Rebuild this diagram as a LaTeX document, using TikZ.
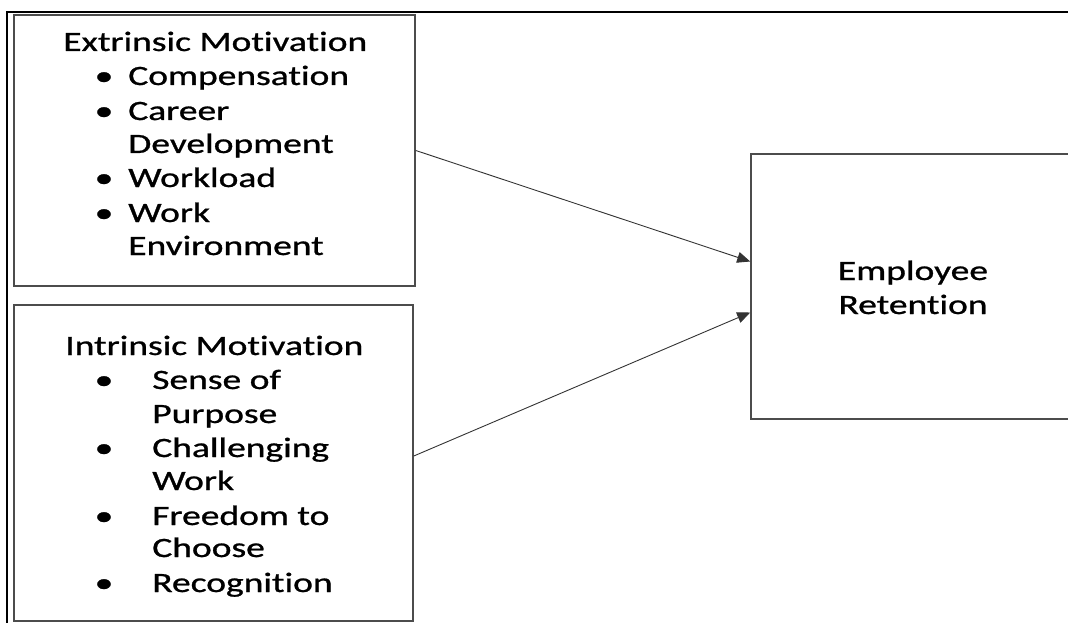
\documentclass[tikz,border=0pt]{standalone}
\usepackage{fontspec}
\setmainfont{Carlito}[Ligatures=NoCommon, FakeBold=0.8]
\usetikzlibrary{arrows.meta}
\tikzset{
  box/.style={draw=black!70, line width=1.6pt, inner sep=0pt},
  lbl/.style={anchor=base west, inner sep=0pt, xscale=1.34, transform shape,
    font=\fontsize{28}{34}\selectfont},
  dot/.style={anchor=base, inner sep=0pt, xscale=1.34, transform shape,
    font=\fontsize{28}{34}\selectfont},
  link/.style={draw=black!80, line width=0.9pt, -{Triangle[length=13pt,width=11pt]}}
}

\begin{document}
\begin{tikzpicture}[x=1pt, y=-1pt]
  \useasboundingbox (0,0) rectangle (1068,623);
  \clip (0,0) rectangle (1068,623);
  % outer frame
  \draw[line width=2.2pt] (7,623) -- (7,12) -- (1080,12);
  % boxes
  \node[box, minimum width=401pt, minimum height=271pt] (ext) at (214.5,150.5) {};
  \node[box, minimum width=399pt, minimum height=316pt] (int) at (213.5,463) {};
  \node[box, minimum width=349pt, minimum height=265pt] (ret) at (925.5,286.5) {};
  % extrinsic motivation
  \node[lbl] (exttitle) at (63,51) {Extrinsic Motivation};
  \foreach \y/\name in {85/e1, 120/e2, 187/e3, 222/e4}
    \node[dot] (b\name) at (104,\y) {\textbullet};
  \node[lbl] (e1) at (128,85) {Compensation};
  \node[lbl] (e2) at (128,120) {Career};
  \node[lbl] (e2b) at (128,153) {Development};
  \node[lbl] (e3) at (128,187) {Workload};
  \node[lbl] (e4) at (128,222) {Work};
  \node[lbl] (e4b) at (128,255) {Environment};
  % intrinsic motivation
  \node[lbl] (inttitle) at (65,355) {Intrinsic Motivation};
  \foreach \y/\name in {389/i1, 457/i2, 525/i3, 592/i4}
    \node[dot] (b\name) at (104,\y) {\textbullet};
  \node[lbl] (i1) at (152,389) {Sense of};
  \node[lbl] (i1b) at (152,423) {Purpose};
  \node[lbl] (i2) at (152,457) {Challenging};
  \node[lbl] (i2b) at (152,490) {Work};
  \node[lbl] (i3) at (152,525) {Freedom to};
  \node[lbl] (i3b) at (152,557) {Choose};
  \node[lbl] (i4) at (152,592) {Recognition};
  % employee retention
  \node[dot] (emp) at (913,280) {Employee};
  \node[dot] (rete) at (913,314) {Retention};
  % arrows
  \draw[link] (ext.east) -- ([yshift=25pt]ret.west);
  \draw[link] ([yshift=7pt]int.east) -- ([yshift=-26pt]ret.west);
\end{tikzpicture}
\end{document}
